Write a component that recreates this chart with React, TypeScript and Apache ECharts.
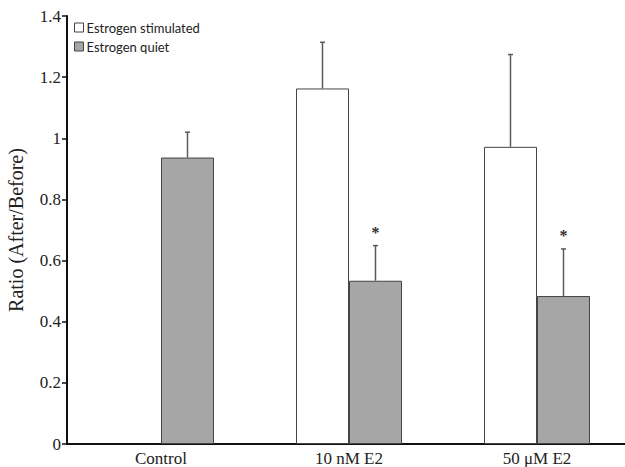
import React, { useEffect, useRef } from "react";
import * as echarts from "echarts";

const categories = ["Control", "10 nM E2", "50 μM E2"];
const stimulatedValues: (number | null)[] = [null, 1.163, 0.972];
const stimulatedErrors: (number | null)[] = [null, 0.151, 0.302];
const quietValues = [0.937, 0.534, 0.484];
const quietErrors = [0.083, 0.115, 0.154];
const quietSignificant = [false, true, true];
const yTicks = { min: 0, max: 1.4, interval: 0.2 };

const BAR_W = 53;

export default function App() {
  const ref = useRef<HTMLDivElement>(null);
  useEffect(() => {
    document.body.style.margin = "0";
    const chart = echarts.init(ref.current!, null, { renderer: "svg" });

    const errData = (vals: (number | null)[], errs: (number | null)[], sig: boolean[] | null) =>
      vals.map((v, i) => (v == null ? [i, null, null, 0] : [i, v, errs[i], sig && sig[i] ? 1 : 0]));

    const makeErr = (offset: number) => (params: any, api: any) => {
      const v = api.value(1);
      if (v == null || isNaN(v)) return null;
      const e = api.value(2);
      const idx = api.value(0);
      const p0 = api.coord([idx, v]);
      const p1 = api.coord([idx, v + e]);
      const x = p0[0] + offset;
      const children: any[] = [
        { type: "line", shape: { x1: x, y1: p0[1], x2: x, y2: p1[1] }, style: { stroke: "#5a5a5a", lineWidth: 1.5 } },
        { type: "line", shape: { x1: x - 2.5, y1: p1[1], x2: x + 2.5, y2: p1[1] }, style: { stroke: "#5a5a5a", lineWidth: 1.5 } },
      ];
      if (api.value(3) === 1) {
        children.push({
          type: "text",
          style: { text: "*", x, y: p1[1] - 5, align: "center", verticalAlign: "bottom", fill: "#333", font: "bold 16px 'Liberation Serif'" },
        });
      }
      return { type: "group", children };
    };

    chart.setOption({
      animation: false,
      grid: { left: 67, top: 16, width: 564, height: 428, containLabel: false, outerBoundsMode: "none" },
      legend: {
        left: 69,
        top: 16,
        orient: "vertical",
        itemWidth: 9,
        itemHeight: 9,
        itemGap: 6,
        textStyle: { fontFamily: "Lato", fontSize: 13, color: "#222", padding: [0, 0, 0, -2] },
        data: [
          { name: "Estrogen stimulated", icon: "rect", itemStyle: { color: "#fff", borderColor: "#444", borderWidth: 1 } },
          { name: "Estrogen quiet", icon: "rect", itemStyle: { color: "#a6a6a6", borderColor: "#444", borderWidth: 1 } },
        ],
      },
      xAxis: {
        type: "category",
        data: categories,
        axisLine: { lineStyle: { color: "#111", width: 2 } },
        axisTick: { show: false },
        axisLabel: { fontFamily: "Liberation Serif", fontSize: 17, color: "#222", margin: 6 },
        splitLine: { show: false },
      },
      yAxis: {
        type: "value",
        min: yTicks.min,
        max: yTicks.max,
        interval: yTicks.interval,
        name: "Ratio (After/Before)",
        nameLocation: "middle",
        nameGap: 41,
        nameTextStyle: { fontFamily: "Liberation Serif", fontSize: 20, color: "#222" },
        axisLine: { show: true, lineStyle: { color: "#111", width: 2 } },
        axisTick: { show: true, length: 5, lineStyle: { color: "#111", width: 1.5 } },
        axisLabel: {
          fontFamily: "Liberation Serif",
          fontSize: 17,
          color: "#222",
          margin: 6,
          formatter: (v: number) => String(+v.toFixed(1)),
        },
        splitLine: { show: false },
      },
      series: [
        {
          name: "Estrogen stimulated",
          type: "bar",
          data: stimulatedValues.map((v) => (v == null ? "-" : v)),
          barWidth: BAR_W,
          barGap: "0%",
          itemStyle: { color: "#fff", borderColor: "#444", borderWidth: 1 },
        },
        {
          name: "Estrogen quiet",
          type: "bar",
          data: quietValues,
          barWidth: BAR_W,
          barGap: "0%",
          itemStyle: { color: "#a6a6a6", borderColor: "#444", borderWidth: 1 },
        },
        {
          type: "custom",
          renderItem: makeErr(-BAR_W / 2),
          data: errData(stimulatedValues, stimulatedErrors, null),
          encode: { x: 0, y: 1 },
          z: 5,
        },
        {
          type: "custom",
          renderItem: makeErr(BAR_W / 2),
          data: errData(quietValues, quietErrors, quietSignificant),
          encode: { x: 0, y: 1 },
          z: 5,
        },
      ],
    });
    return () => chart.dispose();
  }, []);
  return <div ref={ref} style={{ width: 625, height: 467 }} />;
}
